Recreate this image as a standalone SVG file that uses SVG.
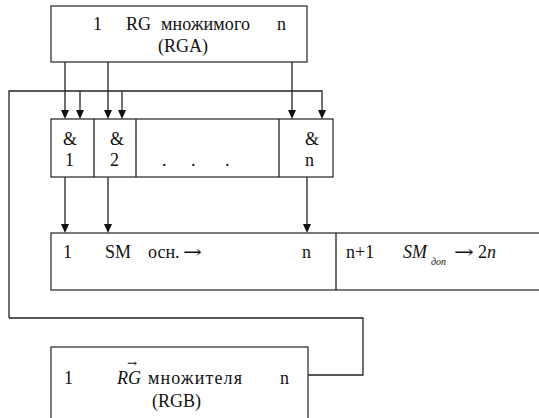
<svg xmlns="http://www.w3.org/2000/svg" width="539" height="418" viewBox="0 0 539 418">
<style>
.box{fill:#fff;stroke:#333;stroke-width:1.3}
.ln{fill:none;stroke:#222;stroke-width:1.3}
.t{font-family:'Liberation Serif','DejaVu Serif',serif;font-size:18px;fill:#111}
.it{font-style:italic}
.ar{font-family:'DejaVu Serif',serif;font-size:18px}
</style>
<rect width="539" height="418" fill="#fff"/>
<g id="connectors">
<path class="ln" d="M65,62 V110"/>
<path class="ln" d="M108,62 V110"/>
<path class="ln" d="M292,62 V110"/>
<path class="ln" d="M9,318 V91 H322 V110"/>
<path class="ln" d="M80,91 V110"/>
<path class="ln" d="M122,91 V110"/>
<path class="ln" d="M308,375 H363 V318 H9"/>
<path class="ln" d="M65,177 V224"/>
<path class="ln" d="M108,177 V224"/>
<path class="ln" d="M307,177 V224"/>
<g fill="#111">
<path d="M61,110 H69 L65,119 Z"/>
<path d="M76,110 H84 L80,119 Z"/>
<path d="M104,110 H112 L108,119 Z"/>
<path d="M118,110 H126 L122,119 Z"/>
<path d="M288,110 H296 L292,119 Z"/>
<path d="M318,110 H326 L322,119 Z"/>
<path d="M61,224 H69 L65,233 Z"/>
<path d="M104,224 H112 L108,233 Z"/>
<path d="M303,224 H311 L307,233 Z"/>
</g>
</g>
<g class="t">
<g id="rga">
<rect class="box" x="51" y="6" width="256" height="56"/>
<text x="93" y="30">1</text>
<text x="126" y="30">RG</text>
<text x="161" y="30" textLength="89">множимого</text>
<text x="277" y="30">n</text>
<text x="158" y="52">(RGA)</text>
</g>
<g id="and">
<rect class="box" x="51" y="119" width="282" height="58"/>
<path class="ln" d="M94,119 V177 M136,119 V177 M279,119 V177"/>
<text x="63" y="145">&amp;</text>
<text x="65" y="166">1</text>
<text x="110" y="145">&amp;</text>
<text x="110" y="166">2</text>
<text x="162" y="166">.</text>
<text x="191" y="166">.</text>
<text x="225" y="166">.</text>
<text x="305" y="145">&amp;</text>
<text x="305" y="166">n</text>
</g>
<g id="sm">
<rect class="box" x="51" y="233" width="500" height="57"/>
<path class="ln" d="M336,233 V290"/>
<text x="63" y="258">1</text>
<text x="105" y="258">SM</text>
<text x="148" y="258">осн.</text>
<text x="183" y="258" class="ar" textLength="19" lengthAdjust="spacingAndGlyphs">→</text>
<text x="302" y="258">n</text>
<text x="346" y="258">n+1</text>
<text x="403" y="258" class="it">SM</text>
<text x="431" y="265" class="it" style="font-size:10px">доп</text>
<text x="454" y="258" class="ar" textLength="20" lengthAdjust="spacingAndGlyphs">→</text>
<text x="478" y="258">2<tspan class="it">n</tspan></text>
</g>
<g id="rgb">
<rect class="box" x="51" y="347" width="257" height="80"/>
<text x="64" y="384">1</text>
<text x="117" y="384" class="it">RG</text>
<text x="127" y="367" class="ar" style="font-size:12px">→</text>
<text x="148" y="384" textLength="94">множителя</text>
<text x="280" y="384">n</text>
<text x="152" y="407">(RGB)</text>
</g>
</g>
</svg>
